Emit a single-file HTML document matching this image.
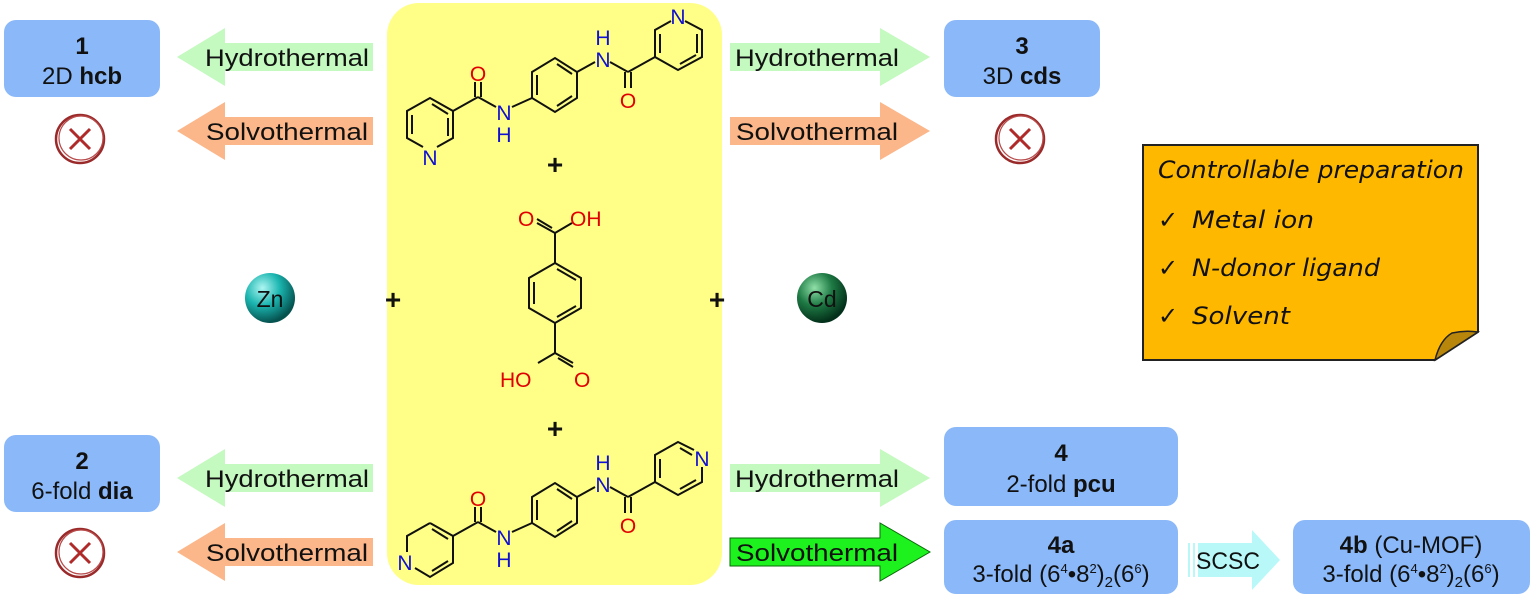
<!DOCTYPE html>
<html><head><meta charset="utf-8"><style>
html,body{margin:0;padding:0;background:#fff;}
svg{display:block;}
text{font-family:"Liberation Sans",sans-serif;}
.lbl{font-size:24px;fill:#111;}
.mol{font-size:21px;}
.cur{font-family:"DejaVu Sans",sans-serif;font-style:italic;font-size:24px;fill:#111;}
</style></head><body>
<svg width="1536" height="603" viewBox="0 0 1536 603" xmlns="http://www.w3.org/2000/svg">
<defs>
<radialGradient id="zn" cx="0.35" cy="0.3" r="0.7"><stop offset="0" stop-color="#aef6f2"/><stop offset="0.5" stop-color="#1bb5b0"/><stop offset="1" stop-color="#05524f"/></radialGradient>
<radialGradient id="cd" cx="0.35" cy="0.3" r="0.7"><stop offset="0" stop-color="#8fe0a8"/><stop offset="0.5" stop-color="#1e7a44"/><stop offset="1" stop-color="#03301a"/></radialGradient>
<g id="xmark">
<circle cx="0" cy="0" r="24" fill="none" stroke="#9a2a2a" stroke-width="2.5"/>
<circle cx="1" cy="-1" r="22" fill="none" stroke="#b84a4a" stroke-width="1.2"/>
<path d="M-10,-10 L10,10 M10,-10 L-10,10" stroke="#b02a2a" stroke-width="3"/>
</g>
<polygon id="larr" points="177,0 225,-29 225,-14 373,-14 373,14 225,14 225,29"/>
<polygon id="rarr" points="730,-14 880,-14 880,-29 930,0 880,29 880,14 730,14"/>
</defs>

<rect x="387" y="3" width="335" height="582" rx="32" fill="#ffff88"/>

<rect x="4" y="20" width="156" height="77" rx="12" fill="#8ab8f8"/>
<text x="82" y="54" text-anchor="middle" class="lbl" font-weight="bold">1</text>
<text x="82" y="84" text-anchor="middle" class="lbl">2D <tspan font-weight="bold">hcb</tspan></text>
<use href="#xmark" x="80" y="139"/>

<rect x="4" y="435" width="156" height="77" rx="12" fill="#8ab8f8"/>
<text x="82" y="469" text-anchor="middle" class="lbl" font-weight="bold">2</text>
<text x="82" y="499" text-anchor="middle" class="lbl">6-fold <tspan font-weight="bold">dia</tspan></text>
<use href="#xmark" x="80" y="553"/>

<use href="#larr" y="57" fill="#c4f9c0"/>
<text x="205" y="66" class="lbl" textLength="164" lengthAdjust="spacingAndGlyphs">Hydrothermal</text>
<use href="#larr" y="131" fill="#fbb68a"/>
<text x="206" y="140" class="lbl" textLength="162" lengthAdjust="spacingAndGlyphs">Solvothermal</text>
<use href="#larr" y="478" fill="#c4f9c0"/>
<text x="205" y="487" class="lbl" textLength="164" lengthAdjust="spacingAndGlyphs">Hydrothermal</text>
<use href="#larr" y="552" fill="#fbb68a"/>
<text x="206" y="561" class="lbl" textLength="162" lengthAdjust="spacingAndGlyphs">Solvothermal</text>

<use href="#rarr" y="57" fill="#c4f9c0"/>
<text x="735" y="66" class="lbl" textLength="164" lengthAdjust="spacingAndGlyphs">Hydrothermal</text>
<use href="#rarr" y="131" fill="#fbb68a"/>
<text x="736" y="140" class="lbl" textLength="162" lengthAdjust="spacingAndGlyphs">Solvothermal</text>
<use href="#rarr" y="478" fill="#c4f9c0"/>
<text x="735" y="487" class="lbl" textLength="164" lengthAdjust="spacingAndGlyphs">Hydrothermal</text>
<use href="#rarr" y="552" fill="#1ef21e" stroke="#0a6a0a" stroke-width="1"/>
<text x="736" y="561" class="lbl" textLength="162" lengthAdjust="spacingAndGlyphs">Solvothermal</text>

<rect x="944" y="20" width="156" height="77" rx="12" fill="#8ab8f8"/>
<text x="1022" y="54" text-anchor="middle" class="lbl" font-weight="bold">3</text>
<text x="1022" y="84" text-anchor="middle" class="lbl">3D <tspan font-weight="bold">cds</tspan></text>
<use href="#xmark" x="1020" y="139"/>

<rect x="944" y="427" width="234" height="79" rx="12" fill="#8ab8f8"/>
<text x="1061" y="461" text-anchor="middle" class="lbl" font-weight="bold">4</text>
<text x="1061" y="492" text-anchor="middle" class="lbl">2-fold <tspan font-weight="bold">pcu</tspan></text>

<rect x="944" y="520" width="234" height="74" rx="12" fill="#8ab8f8"/>
<text x="1061" y="553" text-anchor="middle" class="lbl" font-weight="bold">4a</text>
<text x="1061" y="582" text-anchor="middle" class="lbl">3-fold (6<tspan font-size="13" dy="-9">4</tspan><tspan dy="9">•8</tspan><tspan font-size="13" dy="-9">2</tspan><tspan dy="9">)</tspan><tspan font-size="15" dy="5">2</tspan><tspan dy="-5">(6</tspan><tspan font-size="13" dy="-9">6</tspan><tspan dy="9">)</tspan></text>

<rect x="1188" y="543" width="2" height="34" fill="#b8f8f8"/>
<rect x="1193" y="543" width="2" height="34" fill="#b8f8f8"/>
<polygon points="1198,543 1252,543 1252,530 1280,560 1252,590 1252,577 1198,577" fill="#b8f8f8"/>
<text x="1228" y="569" text-anchor="middle" class="lbl" textLength="64" lengthAdjust="spacingAndGlyphs">SCSC</text>

<rect x="1293" y="520" width="237" height="74" rx="12" fill="#8ab8f8"/>
<text x="1411" y="553" text-anchor="middle" class="lbl"><tspan font-weight="bold">4b</tspan> (Cu-MOF)</text>
<text x="1411" y="582" text-anchor="middle" class="lbl">3-fold (6<tspan font-size="13" dy="-9">4</tspan><tspan dy="9">•8</tspan><tspan font-size="13" dy="-9">2</tspan><tspan dy="9">)</tspan><tspan font-size="15" dy="5">2</tspan><tspan dy="-5">(6</tspan><tspan font-size="13" dy="-9">6</tspan><tspan dy="9">)</tspan></text>

<circle cx="270" cy="298" r="25" fill="url(#zn)"/>
<text x="270" y="307" text-anchor="middle" font-size="23" fill="#111">Zn</text>
<circle cx="822" cy="298" r="25" fill="url(#cd)"/>
<text x="822" y="307" text-anchor="middle" font-size="23" fill="#111">Cd</text>
<text x="393" y="309" text-anchor="middle" font-size="28" font-weight="bold" fill="#111">+</text>
<text x="717" y="309" text-anchor="middle" font-size="28" font-weight="bold" fill="#111">+</text>
<text x="555" y="174" text-anchor="middle" font-size="28" font-weight="bold" fill="#111">+</text>
<text x="555" y="438" text-anchor="middle" font-size="28" font-weight="bold" fill="#111">+</text>

<g stroke="#111" stroke-width="2" fill="none">
<polyline points="423,147 407,138 407,111 430,98 453,111 453,138 437,147"/>
<line x1="412" y1="115" x2="412" y2="134"/><line x1="432" y1="104" x2="448" y2="114"/><line x1="448" y1="118" x2="448" y2="136"/>
<line x1="453" y1="111" x2="478" y2="97"/>
<line x1="475" y1="97" x2="475" y2="82"/><line x1="481" y1="97" x2="481" y2="82"/>
<line x1="478" y1="97" x2="496" y2="107"/>
<line x1="512" y1="107" x2="532" y2="98"/>
<polygon points="532,72 555,58 577,72 577,98 555,112 532,98"/>
<line x1="537" y1="75" x2="537" y2="95"/><line x1="557" y1="64" x2="572" y2="74"/><line x1="557" y1="106" x2="572" y2="96"/>
<line x1="577" y1="72" x2="595" y2="62"/>
<line x1="610" y1="62" x2="628" y2="72"/>
<line x1="625" y1="72" x2="625" y2="88"/><line x1="631" y1="72" x2="631" y2="88"/>
<line x1="628" y1="72" x2="655" y2="57"/>
<polyline points="671,21 655,30 655,57 678,70 702,57 702,30 685,21"/>
<line x1="660" y1="34" x2="660" y2="53"/><line x1="697" y1="34" x2="697" y2="53"/><line x1="680" y1="64" x2="696" y2="55"/>
</g>
<g class="mol" text-anchor="middle">
<text x="430" y="165" fill="#1010d0">N</text>
<text x="478" y="81" fill="#e00000">O</text>
<text x="504" y="120" fill="#1010d0">N</text>
<text x="504" y="142" fill="#1010d0">H</text>
<text x="603" y="67" fill="#1010d0">N</text>
<text x="603" y="45" fill="#1010d0">H</text>
<text x="628" y="108" fill="#e00000">O</text>
<text x="678" y="24" fill="#1010d0">N</text>
</g>

<g stroke="#111" stroke-width="2" fill="none">
<polygon points="555,263 581,278 581,308 555,323 529,308 529,278"/>
<line x1="534" y1="282" x2="534" y2="304"/><line x1="557" y1="269" x2="576" y2="280"/><line x1="557" y1="317" x2="576" y2="306"/>
<line x1="555" y1="263" x2="555" y2="233"/>
<line x1="555" y1="233" x2="537" y2="223"/><line x1="552" y1="228" x2="537" y2="219"/>
<line x1="555" y1="233" x2="572" y2="223"/>
<line x1="555" y1="323" x2="555" y2="353"/>
<line x1="555" y1="353" x2="573" y2="363"/><line x1="558" y1="358" x2="573" y2="367"/>
<line x1="555" y1="353" x2="538" y2="363"/>
</g>
<g class="mol" fill="#e00000">
<text x="518" y="226">O</text><text x="570" y="226">OH</text>
<text x="500" y="387">HO</text><text x="574" y="387">O</text>
</g>

<g transform="translate(0,425)">
<g stroke="#111" stroke-width="2" fill="none">
<polyline points="430,98 453,111 453,138 430,152 415,143"/>
<polyline points="407,127 407,111 430,98"/>
<line x1="432" y1="104" x2="448" y2="114"/><line x1="432" y1="146" x2="448" y2="136"/>
<line x1="453" y1="111" x2="478" y2="97"/>
<line x1="475" y1="97" x2="475" y2="82"/><line x1="481" y1="97" x2="481" y2="82"/>
<line x1="478" y1="97" x2="496" y2="107"/>
<line x1="512" y1="107" x2="532" y2="98"/>
<polygon points="532,72 555,58 577,72 577,98 555,112 532,98"/>
<line x1="537" y1="75" x2="537" y2="95"/><line x1="557" y1="64" x2="572" y2="74"/><line x1="557" y1="106" x2="572" y2="96"/>
<line x1="577" y1="72" x2="595" y2="62"/>
<line x1="610" y1="62" x2="628" y2="72"/>
<line x1="625" y1="72" x2="625" y2="88"/><line x1="631" y1="72" x2="631" y2="88"/>
<line x1="628" y1="72" x2="655" y2="57"/>
<polyline points="694,25 678,17 655,30 655,57 678,70 702,57 702,42"/>
<line x1="660" y1="34" x2="660" y2="53"/><line x1="680" y1="64" x2="696" y2="55"/><line x1="680" y1="23" x2="692" y2="30"/>
</g>
<g class="mol" text-anchor="middle">
<text x="405" y="145" fill="#1010d0">N</text>
<text x="478" y="81" fill="#e00000">O</text>
<text x="504" y="120" fill="#1010d0">N</text>
<text x="504" y="142" fill="#1010d0">H</text>
<text x="603" y="67" fill="#1010d0">N</text>
<text x="603" y="45" fill="#1010d0">H</text>
<text x="628" y="108" fill="#e00000">O</text>
<text x="702" y="41" fill="#1010d0">N</text>
</g>
</g>

<polygon points="1143,145 1478,145 1478,332 1435,360 1143,360" fill="#ffb800" stroke="#222" stroke-width="2"/>
<path d="M1435,360 Q1440,340 1452,333 Q1465,330 1478,332 Z" fill="#b8860b" stroke="#222" stroke-width="1.5"/>
<text x="1158" y="178" class="cur" textLength="306" lengthAdjust="spacingAndGlyphs">Controllable preparation</text>
<text x="1158" y="228" class="cur" font-style="normal">✓</text><text x="1192" y="228" class="cur" textLength="122" lengthAdjust="spacingAndGlyphs">Metal ion</text>
<text x="1158" y="276" class="cur" font-style="normal">✓</text><text x="1192" y="276" class="cur" textLength="188" lengthAdjust="spacingAndGlyphs">N-donor ligand</text>
<text x="1158" y="324" class="cur" font-style="normal">✓</text><text x="1192" y="324" class="cur" textLength="98" lengthAdjust="spacingAndGlyphs">Solvent</text>
</svg>
</body></html>
